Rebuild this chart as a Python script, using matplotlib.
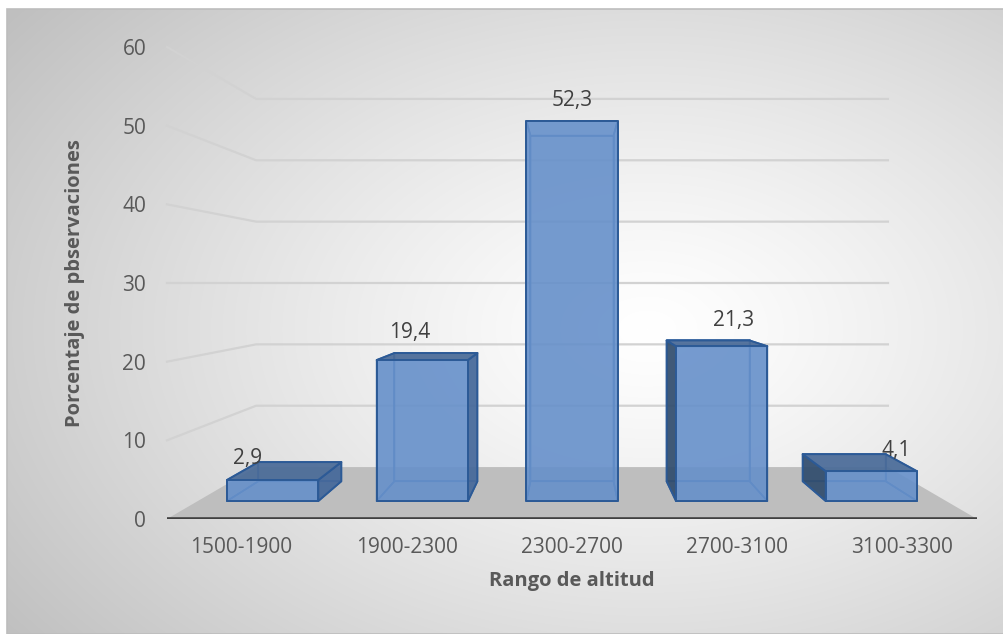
import numpy as np
import matplotlib.pyplot as plt
from matplotlib.colors import to_rgba
from matplotlib.patches import Polygon, Rectangle

plt.rcParams['font.family'] = ['Open Sans', 'DejaVu Sans']

categorias = ['1500-1900', '1900-2300', '2300-2700', '2700-3100', '3100-3300']
porcentajes = [2.9, 19.4, 52.3, 21.3, 4.1]
etiquetas = ['2,9', '19,4', '52,3', '21,3', '4,1']
yticks = [0, 10, 20, 30, 40, 50, 60]

# perspectiva: punto de fuga en el centro del plano frontal
XC, VC = 2.5, 30.0
S_FONDO = 0.78          # escala de la pared del fondo
S_BAR_F, S_BAR_B = 0.924, 0.840   # profundidad de las columnas
ANCHO = 0.61

C_FRENTE = '#6690ca'
C_DER = '#45689a'
C_IZQ = '#314d6e'
C_TOP = '#4a6b98'
C_BORDE = '#2c5a96'


def proj(x, v, s):
    return XC + s * (x - XC), VC + s * (v - VC)


def cara(ax, pts, fc, alpha=0.92, z=3, lw=1.4, ec=C_BORDE):
    p = Polygon(pts, closed=True, edgecolor=ec, lw=lw, zorder=z,
                clip_on=False, joinstyle='round')
    p.set_facecolor('none' if fc == 'none' else to_rgba(fc, alpha))
    ax.add_patch(p)


fig = plt.figure(figsize=(10.04, 6.34), dpi=100)

# fondo con degradado radial
bg = fig.add_axes([7 / 1004, 0, 997 / 1004, 625 / 634])
yy, xx = np.mgrid[0:625, 0:997]
d = np.sqrt(((xx - 640) / 640.0) ** 2 + ((yy - 320) / 420.0) ** 2)
g = 255 - 64 * np.clip(d / 1.25, 0, 1) ** 1.25
img = np.dstack([g, g, g]).astype(np.uint8)
bg.imshow(img, aspect='auto', interpolation='bilinear')
bg.set_axis_off()
fig.add_artist(Rectangle((7 / 1004, 0), 997 / 1004, 625 / 634, transform=fig.transFigure,
                         fill=False, edgecolor='#bdbdbd', lw=1.2))

ax = fig.add_axes([167 / 1004, 115 / 634, 810 / 1004, 472 / 634])
ax.set_xlim(0, 5)
ax.set_ylim(0, 60)
ax.patch.set_visible(False)
for s in ax.spines.values():
    s.set_visible(False)

# lineas de division: pared lateral + pared del fondo
for t in yticks[1:]:
    p0 = proj(0, t, 1.0)
    p1 = proj(0, t, S_FONDO)
    p2 = proj(5, t, S_FONDO)
    ax.plot([p0[0], p1[0], p2[0]], [p0[1], p1[1], p2[1]], color='#d2d2d2',
            lw=1.6, zorder=1, clip_on=False)

# piso
piso = [proj(0, 0, 1.0), proj(5, 0, 1.0), proj(5, 0, S_FONDO), proj(0, 0, S_FONDO)]
ax.add_patch(Polygon(piso, closed=True, facecolor='#bebebe', edgecolor='none', zorder=1.5))
ax.plot([0, 5], [0, 0], color='#404040', lw=2.6, zorder=2, solid_capstyle='round')

# columnas 3D
for i, v in enumerate(porcentajes):
    x1 = i + 0.5 - ANCHO / 2
    x2 = i + 0.5 + ANCHO / 2

    frente = [proj(x1, 0, S_BAR_F), proj(x2, 0, S_BAR_F), proj(x2, v, S_BAR_F), proj(x1, v, S_BAR_F)]
    fondo = [proj(x1, 0, S_BAR_B), proj(x2, 0, S_BAR_B), proj(x2, v, S_BAR_B), proj(x1, v, S_BAR_B)]
    izq = [proj(x1, 0, S_BAR_F), proj(x1, 0, S_BAR_B), proj(x1, v, S_BAR_B), proj(x1, v, S_BAR_F)]
    der = [proj(x2, 0, S_BAR_F), proj(x2, 0, S_BAR_B), proj(x2, v, S_BAR_B), proj(x2, v, S_BAR_F)]
    arriba = [proj(x1, v, S_BAR_F), proj(x2, v, S_BAR_F), proj(x2, v, S_BAR_B), proj(x1, v, S_BAR_B)]
    abajo = [proj(x1, 0, S_BAR_F), proj(x2, 0, S_BAR_F), proj(x2, 0, S_BAR_B), proj(x1, 0, S_BAR_B)]

    ocultas = [fondo, abajo]
    visibles = []
    if x2 < XC:
        visibles.append((der, C_DER))
        ocultas.append(izq)
    elif x1 > XC:
        visibles.append((izq, C_IZQ))
        ocultas.append(der)
    else:
        ocultas += [izq, der]
    if v < VC:
        visibles.append((arriba, C_TOP))
    else:
        ocultas.append(arriba)

    for f in ocultas:
        cara(ax, f, 'none', z=3, lw=1.2, ec='#3a6aa8')
    for f, c in visibles:
        cara(ax, f, c, alpha=0.93, z=4)
    cara(ax, frente, C_FRENTE, alpha=0.9, z=5)

    # etiqueta de valor sobre el punto mas alto de la columna
    tops = [proj(x1, v, S_BAR_F)[1], proj(x1, v, S_BAR_B)[1]]
    gap = 7 if v >= 10 else -5
    ax.annotate(etiquetas[i], (i + 0.5, max(tops)), xytext=(0, gap),
                textcoords='offset points', ha='center', va='bottom',
                fontsize=15, color='#404040', zorder=6, annotation_clip=False)

# ejes
ax.set_yticks(yticks)
ax.set_yticklabels([str(t) for t in yticks])
ax.set_xticks([XC + 1.02 * (i + 0.5 - XC) for i in range(len(categorias))])
ax.set_xticklabels(categorias)
ax.tick_params(axis='both', length=0, labelsize=15, labelcolor='#595959')
ax.tick_params(axis='y', pad=15)
ax.tick_params(axis='x', pad=13)

ax.set_xlabel('Rango de altitud', fontsize=14.5, fontweight='bold', color='#595959', labelpad=9)
ax.set_ylabel('Porcentaje de pbservaciones', fontsize=14.5, fontweight='bold',
              color='#595959', labelpad=27)

fig.savefig('out.png', dpi=100)
